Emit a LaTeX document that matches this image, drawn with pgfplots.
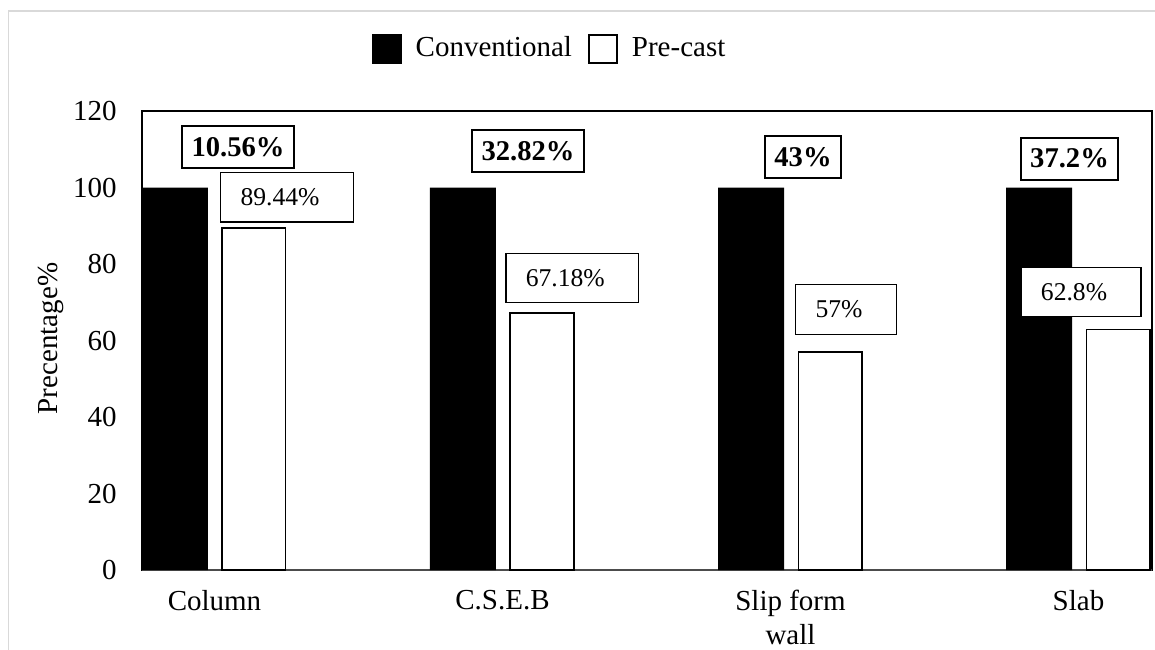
\documentclass[border=0pt]{standalone}
\usepackage{fontspec}
\setmainfont{Liberation Serif}
\usepackage{pgfplots}
\pgfplotsset{compat=1.18}
\begin{document}
\fontsize{14.5}{16.7}\selectfont
\begin{tikzpicture}
\useasboundingbox (-71pt,-39.5pt) rectangle (506.5pt,285pt);
\draw[black!15, line width=0.7pt] (-66.75pt,-60pt) -- (-66.75pt,279.5pt) -- (560pt,279.5pt);
\begin{axis}[
  scale only axis, width=505pt, height=229.5pt,
  xmin=-0.2517, xmax=3.2552, ymin=0, ymax=120,
  ytick={0,20,...,120}, xtick={0,1,2,3},
  xticklabels={Column, C.S.E.B, {Slip form\\wall}, Slab},
  xticklabel style={align=center, anchor=north, inner sep=0pt, yshift=-10pt},
  yticklabel style={anchor=east, inner sep=0pt, xshift=-12.5pt},
  major tick length=0pt,
  axis line style={black, line width=0.6pt},
  /pgf/number format/assume math mode=true,
  tick label style={font=\fontsize{14.5}{16.7}\selectfont},
  ylabel={Precentage\%},
  ylabel style={at={(axis description cs:-0.0901,0.5044)}, anchor=center, font=\fontsize{14.5}{16.7}\selectfont},
  clip=false,
  legend columns=2,
  legend style={at={(0.4025,1.1351)}, anchor=center, draw=none, fill=none, inner sep=0pt,
    font=\fontsize{14.5}{16.7}\selectfont, nodes={inner sep=0pt},
    /tikz/every odd column/.append style={column sep=7pt},
    /tikz/every even column/.append style={column sep=8pt}},
  extra y ticks={0}, extra y tick labels={},
  extra y tick style={grid=major, major grid style={black!70, line width=1pt}},
]
\addplot[ybar, bar width=33pt, bar shift=-19.75pt, fill=black, draw=none,
  legend image code/.code={\fill[black] (0pt,-7.5pt) rectangle (15pt,7.5pt);}]
  coordinates {(0,100) (1,100) (2,100) (3,100)};
\addlegendentry{Conventional}
\addplot[ybar, bar width=31.8pt, bar shift=19.75pt, fill=white, draw=black, line width=0.7pt,
  legend image code/.code={\draw[fill=white, draw=black, line width=1pt] (0.5pt,-7pt) rectangle (14.5pt,7pt);}]
  coordinates {(0,89.44) (1,67.18) (2,57) (3,62.8)};
\addlegendentry{Pre-cast}
\addplot[only marks, mark=none, forget plot, point meta=explicit symbolic,
  nodes near coords={\textbf{\pgfplotspointmeta\%}}, nodes near coords align={center},
  every node near coord/.append style={anchor=center, draw=black, fill=white, line width=1pt,
    inner xsep=4.75pt, inner ysep=0pt, minimum height=21pt, text=black,
    font=\fontsize{14.3}{16}\selectfont}]
  table[meta=lab] {
x y lab
0.0816 110.46 10.56
1.0885 109.54 32.82
2.0434 107.97 43
2.9688 107.58 37.2
};
\addplot[only marks, mark=none, forget plot, point meta=explicit symbolic,
  nodes near coords={\pgfplotspointmeta\%\kern7pt\relax}, nodes near coords align={center},
  every node near coord/.append style={anchor=center, draw=black, fill=white, line width=0.65pt,
    inner xsep=10pt, inner ysep=0pt, minimum height=24.75pt, text=black,
    font=\fontsize{12.8}{15}\selectfont}]
  table[meta=lab] {
x y lab
0.2517 97.44 89.44
1.2425 76.34 67.18
2.1927 68.10 57
3.0087 72.68 62.8
};
\end{axis}
\end{tikzpicture}
\end{document}
